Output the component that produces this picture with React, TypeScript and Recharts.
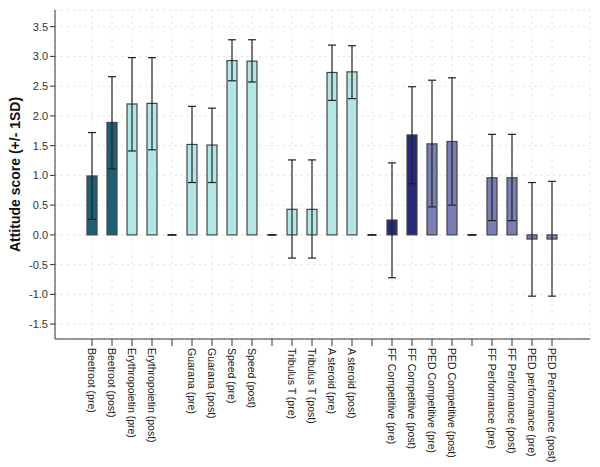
import React from "react";
import {
  BarChart,
  Bar,
  Cell,
  ErrorBar,
  XAxis,
  YAxis,
  CartesianGrid,
} from "recharts";

// 24 slots, the blank ones are the gaps between groups
const categories = [
  "Beetroot (pre)", "Beetroot (post)", "Erythropoietin (pre)", "Erythropoietin (post)", "",
  "Guarana (pre)", "Guarana (post)", "Speed (pre)", "Speed (post)", "",
  "Tribulus T (pre)", "Tribulus T (post)", "A steroid (pre)", "A steroid (post)", "",
  "FF Competitive (pre)", "FF Competitive (post)", "PED Competitive (pre)", "PED Competitive (post)", "",
  "FF Performance (pre)", "FF Performance (post)", "PED performance (pre)", "PED Performance (post)",
];

const means = [
  0.99, 1.89, 2.2, 2.21, 0,
  1.52, 1.51, 2.93, 2.92, 0,
  0.43, 0.43, 2.73, 2.74, 0,
  0.25, 1.68, 1.53, 1.57, 0,
  0.96, 0.96, -0.07, -0.07,
];

const upper = [
  1.72, 2.66, 2.98, 2.98, null,
  2.16, 2.13, 3.28, 3.28, null,
  1.26, 1.26, 3.19, 3.18, null,
  1.21, 2.49, 2.6, 2.64, null,
  1.69, 1.69, 0.88, 0.9,
];

const lower = [
  0.26, 1.11, 1.41, 1.43, null,
  0.88, 0.88, 2.59, 2.57, null,
  -0.39, -0.39, 2.26, 2.29, null,
  -0.72, 0.86, 0.47, 0.5, null,
  0.24, 0.24, -1.03, -1.03,
];

const groups = [
  "beet", "beet", "cyan", "cyan", "gap",
  "cyan", "cyan", "cyan", "cyan", "gap",
  "cyan", "cyan", "cyan", "cyan", "gap",
  "navy", "navy", "lav", "lav", "gap",
  "lav", "lav", "lav", "lav",
];

const yTicks = [-1.5, -1.0, -0.5, 0.0, 0.5, 1.0, 1.5, 2.0, 2.5, 3.0, 3.5];

const colors: Record<string, string> = {
  beet: "#1E5F74",
  cyan: "#B4E6E6",
  navy: "#262A78",
  lav: "#7B7EB2",
  gap: "none",
};

const data = categories.map((name, i) => ({
  name,
  mean: means[i],
  err:
    upper[i] == null
      ? [0, 0]
      : [means[i] - (lower[i] as number), (upper[i] as number) - means[i]],
  gap: groups[i] === "gap",
}));

const BarShape = (props: any) => {
  const { x, y, width, height, fill, payload } = props;
  if (payload && payload.gap) {
    return (
      <line x1={x} x2={x + width} y1={y} y2={y} stroke="#666" strokeWidth={1.5} />
    );
  }
  const h = Math.abs(height);
  const top = height < 0 ? y + height : y;
  return (
    <rect
      x={x}
      y={top}
      width={width}
      height={Math.max(h, 1)}
      fill={fill}
      stroke="#444"
      strokeWidth={1.2}
    />
  );
};

const XTick = (props: any) => {
  const { x, y, payload } = props;
  return (
    <text
      x={x}
      y={y}
      transform={`rotate(90, ${x}, ${y})`}
      textAnchor="start"
      dominantBaseline="central"
      fontSize={10.5}
      fill="#222"
      fontFamily="Liberation Sans, Arial, sans-serif"
    >
      {payload.value}
    </text>
  );
};

const YLabel = (props: any) => {
  const { viewBox } = props;
  const cx = 7;
  const cy = viewBox.y + viewBox.height / 2;
  return (
    <text
      x={cx}
      y={cy}
      transform={`rotate(-90, ${cx}, ${cy})`}
      textAnchor="middle"
      dominantBaseline="central"
      fontSize={14}
      fontWeight="bold"
      fill="#111"
      fontFamily="Liberation Sans, Arial, sans-serif"
    >
      Attitude score (+/- 1SD)
    </text>
  );
};

export default function App() {
  return (
    <div style={{ fontFamily: "Liberation Sans, Arial, sans-serif" }}>
      <BarChart
        width={592}
        height={459}
        data={data}
        barCategoryGap={5}
        margin={{ top: 2, right: 10, left: 0, bottom: 0 }}
      >
        <CartesianGrid stroke="#e0e0e0" strokeDasharray="2 4" />
        <XAxis
          dataKey="name"
          interval={0}
          padding={{ left: 27, right: 28 }}
          height={128}
          tick={<XTick />}
          tickSize={7}
          stroke="#333"
        />
        <XAxis
          xAxisId="top"
          orientation="top"
          dataKey="name"
          tick={false}
          tickLine={false}
          height={0}
          stroke="#333"
        />
        <YAxis
          domain={[-1.75, 3.78]}
          ticks={yTicks}
          tickFormatter={(v: number) => v.toFixed(1)}
          width={47}
          tickSize={5}
          stroke="#333"
          tick={{ fontSize: 11, fill: "#333" }}
          label={<YLabel />}
        />
        <YAxis
          yAxisId="right"
          orientation="right"
          tick={false}
          tickLine={false}
          width={0}
          stroke="#333"
        />
        <Bar dataKey="mean" shape={<BarShape />} isAnimationActive={false}>
          {data.map((d, i) => (
            <Cell key={i} fill={colors[groups[i]]} />
          ))}
          <ErrorBar dataKey="err" width={4} stroke="#222" strokeWidth={1.2} />
        </Bar>
      </BarChart>
    </div>
  );
}
